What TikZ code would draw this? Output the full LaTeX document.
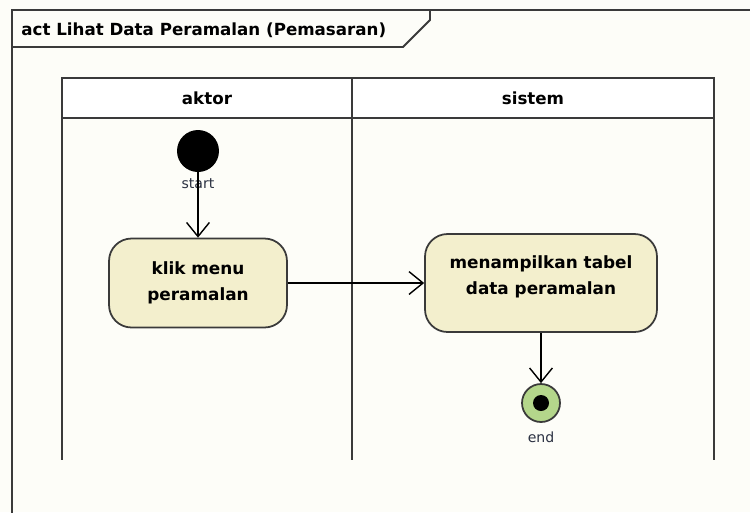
\documentclass[tikz,border=0pt]{standalone}
\usepackage{fontspec}
\setmainfont{DejaVu Sans}
\usetikzlibrary{arrows.meta,positioning}

\definecolor{paper}{HTML}{FDFDF8}
\definecolor{linegray}{HTML}{3A3A3A}
\definecolor{actfill}{HTML}{F3EFCD}
\definecolor{endfill}{HTML}{B4D68B}
\definecolor{captext}{HTML}{2B3142}

\begin{document}
\begin{tikzpicture}[
  x=0.02cm, y=-0.02cm,
  action/.style={
    draw=linegray, line width=1pt, rectangle, rounded corners=0.45cm,
    fill=actfill, align=center, inner sep=2pt,
    font=\bfseries\fontsize{9.6}{15}\selectfont
  },
  lane/.style={draw=linegray, line width=1.1pt},
  header/.style={font=\bfseries\fontsize{9.5}{11}\selectfont},
  caption/.style={font=\fontsize{8}{9}\selectfont, text=captext, inner sep=1pt},
  flow/.style={-{Straight Barb[length=8pt,width=13pt]}, line width=0.8pt}
]

% Page and frame
\fill[paper] (0,0) rectangle (750,512);
\useasboundingbox (0,0) rectangle (750,512);
\clip (0,0) rectangle (750,512);
\draw[lane] (12,530) -- (12,10) -- (760,10);

% Frame tab
\node[header, anchor=west, inner sep=0pt] (title) at (21,30)
  {act Lihat Data Peramalan (Pemasaran)};
\draw[lane] (12,47) -- (403,47) -- (430,20) -- (430,10);

% Swimlanes
\draw[lane, fill=white] (62,78) rectangle (714,118);
\draw[lane] (352,78) -- (352,460);
\draw[lane] (62,118) -- (62,460);
\draw[lane] (714,118) -- (714,460);
\node[header] (aktor) at (207,98) {aktor};
\node[header] (sistem) at (533,98) {sistem};

% Start
\node[circle, fill=black, minimum size=0.84cm, inner sep=0pt] (start) at (198,151) {};
\node[caption] (startlbl) at (198,184) {start};

% Actions
\node[action, minimum width=3.56cm, minimum height=1.78cm] (klik) at (198,283)
  {klik menu\\peramalan};
\node[action, minimum width=4.64cm, minimum height=1.96cm] (tampil) at (541,283)
  {menampilkan tabel\\data peramalan\\[-6pt]};

% End
\node[circle, draw=linegray, line width=1pt, fill=endfill, minimum size=0.76cm, inner sep=0pt] (end) at (541,403) {};
\node[circle, fill=black, minimum size=0.32cm, inner sep=0pt] (endin) at (end) {};
\node[caption] (endlbl) at (541,437) {end};

% Flows
\draw[flow] (start.south) -- (klik.north);
\draw[flow] (klik.east) -- (tampil.west);
\draw[flow] (tampil.south) -- (end.north);

\end{tikzpicture}
\end{document}
